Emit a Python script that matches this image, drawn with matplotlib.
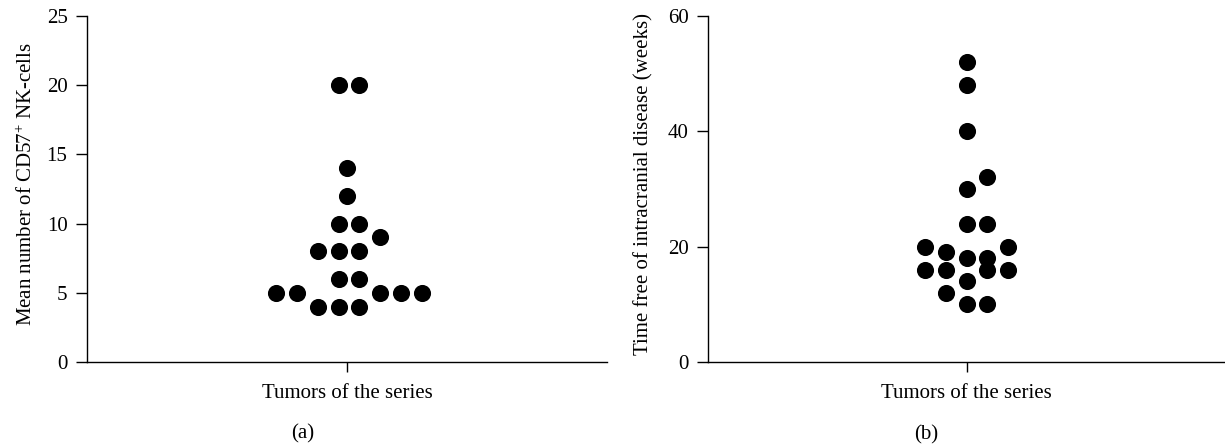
import numpy as np
from matplotlib import pyplot as plt

# values
cd57_counts = [4, 4, 4, 5, 5, 5, 5, 5, 6, 6, 8, 8, 8, 9, 10, 10, 12, 14, 20, 20]
free_weeks = [10, 10, 12, 14, 16, 16, 16, 16, 18, 18, 19, 20, 20, 24, 24, 30, 32, 40, 48, 52]

category = "Tumors of the series"
ylabel_a = "Mean number of CD57$^{+}$ NK-cells"
ylabel_b = "Time free of intracranial disease (weeks)"
yticks_a = [0, 5, 10, 15, 20, 25]
yticks_b = [0, 20, 40, 60]

plt.rcParams["font.family"] = ["Liberation Serif", "DejaVu Serif"]
plt.rcParams["mathtext.fontset"] = "custom"
plt.rcParams["mathtext.rm"] = "Liberation Serif"
plt.rcParams["mathtext.default"] = "regular"
plt.rcParams["font.size"] = 15

MARKER = 11.3      # points, dot diameter
MIN_DIST = 16.5    # pixels between dot centres before they count as touching


def swarm(ax, values, phase, max_half):
    """Greedy dot-plot layout: each point goes to the nearest free column slot."""
    trans = ax.transData
    grid = [phase + k for k in range(-20, 21) if abs(phase + k) <= max_half + 1e-9]
    grid.sort(key=lambda p: (abs(p), -p))
    vals, counts = np.unique(values, return_counts=True)
    placed, xs, ys = [], [], []
    for v, n in zip(vals, counts):
        for _ in range(n):
            cands = ([0.0] + grid) if n == 1 else grid
            best, best_d = None, -1.0
            for c in cands:
                p = trans.transform((c, v))
                d = min((np.hypot(*(p - q)) for q in placed), default=np.inf)
                if d >= MIN_DIST:
                    best = c
                    break
                if d > best_d:
                    best, best_d = c, d
            placed.append(trans.transform((best, v)))
            xs.append(best)
            ys.append(v)
    return xs, ys


def style(ax, ymax, yticks, ylabel, label_x):
    ax.set_xlim(-12.5, 12.5)
    ax.set_ylim(0, ymax)
    ax.set_yticks(yticks)
    ax.set_xticks([0])
    ax.set_xticklabels([category])
    for side in ["top", "right"]:
        ax.spines[side].set_visible(False)
    for side in ["left", "bottom"]:
        ax.spines[side].set_linewidth(1.0)
    ax.tick_params(axis="y", direction="out", length=8, width=1.0, pad=6)
    ax.tick_params(axis="x", direction="out", length=7, width=1.0, pad=9)
    ax.set_ylabel(ylabel)
    ax.yaxis.set_label_coords(label_x, 0.515)


fig = plt.figure(figsize=(12.25, 4.46), dpi=100)
ax_a = fig.add_axes([0.0710, 0.1883, 0.4245, 0.7758])
ax_b = fig.add_axes([0.5780, 0.1883, 0.4220, 0.7758])

style(ax_a, 25, yticks_a, ylabel_a, -0.096)
style(ax_b, 60, yticks_b, ylabel_b, -0.106)

xa, ya = swarm(ax_a, cd57_counts, phase=-0.4, max_half=4.0)
ax_a.plot(xa, ya, "o", color="black", markersize=MARKER, clip_on=False)

xb, yb = swarm(ax_b, free_weeks, phase=0.0, max_half=2.0)
ax_b.plot(xb, yb, "o", color="black", markersize=MARKER, clip_on=False)

fig.text(303 / 1225, 1 - 434 / 446, "(a)", ha="center", va="center")
fig.text(926 / 1225, 1 - 435 / 446, "(b)", ha="center", va="center")

fig.savefig("out.png", dpi=100)
